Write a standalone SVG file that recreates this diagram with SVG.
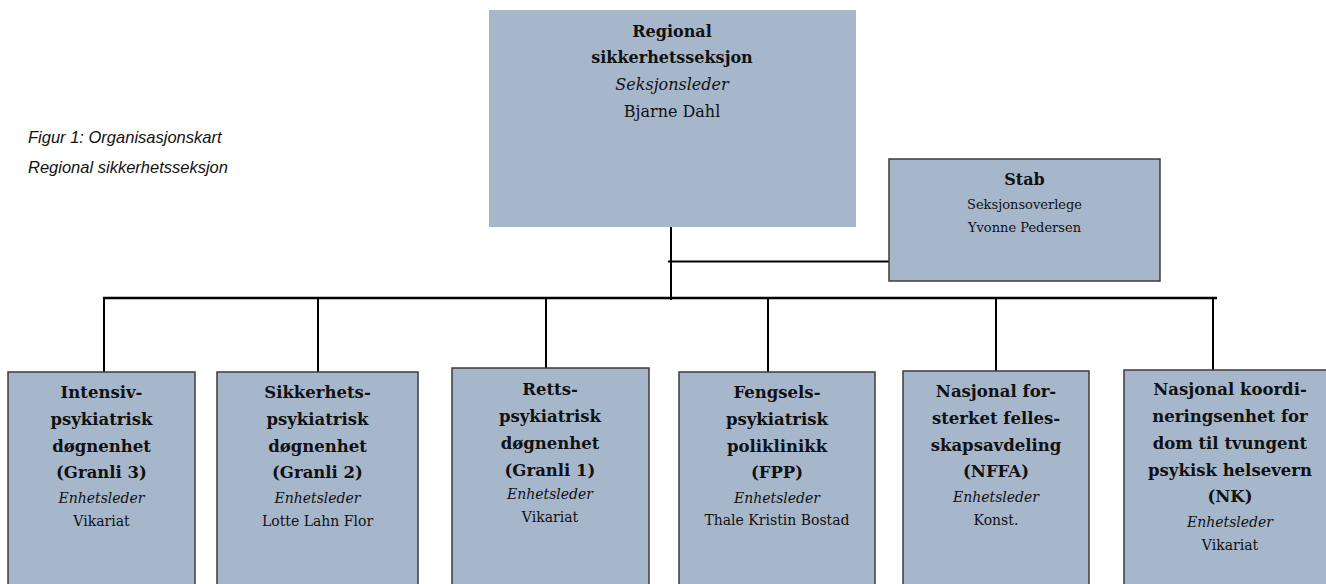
<svg xmlns="http://www.w3.org/2000/svg" width="1326" height="584" viewBox="0 0 1326 584">
<style>
.bg{fill:#ffffff}
.box{fill:#A6B6CB;stroke:#3c3c3c;stroke-width:1.5}
.top{fill:#A6B6CB;stroke:none}
.t{font-family:"DejaVu Serif","Liberation Serif",serif;fill:#111;text-anchor:middle}
.b{font-weight:bold;font-size:16.5px}
.tb{font-weight:bold;font-size:16px}
.i{font-style:italic;font-size:14px}
.r{font-size:14px}
.ti{font-style:italic;font-size:16px}
.tr{font-size:16px}
.sr{font-size:13px}
.cap{font-family:"Liberation Sans","DejaVu Sans",sans-serif;font-style:italic;font-size:16.5px;fill:#111}
.c{stroke:#000;fill:none}
</style>
<rect class="bg" x="0" y="0" width="1326" height="584"/>
<g id="caption">
<text class="cap" x="28" y="143">Figur 1: Organisasjonskart</text>
<text class="cap" x="28" y="173">Regional sikkerhetsseksjon</text>
</g>
<g id="connectors">
<line class="c" stroke-width="2" x1="671" y1="227" x2="671" y2="300"/>
<line class="c" stroke-width="1.8" x1="668" y1="261.5" x2="889" y2="261.5"/>
<line class="c" stroke-width="2.5" x1="103" y1="298" x2="1217" y2="298"/>
<line class="c" stroke-width="2" x1="104" y1="298" x2="104" y2="372"/>
<line class="c" stroke-width="2" x1="318" y1="298" x2="318" y2="372"/>
<line class="c" stroke-width="2" x1="546" y1="298" x2="546" y2="368"/>
<line class="c" stroke-width="2" x1="768" y1="298" x2="768" y2="372"/>
<line class="c" stroke-width="2" x1="996" y1="298" x2="996" y2="371"/>
<line class="c" stroke-width="2" x1="1213" y1="298" x2="1213" y2="370"/>
</g>
<g id="node-regional">
<rect class="top" x="489" y="10" width="367" height="217"/>
<text class="t tb" x="672" y="37">Regional</text>
<text class="t tb" x="672" y="63">sikkerhetsseksjon</text>
<text class="t ti" x="672" y="90">Seksjonsleder</text>
<text class="t tr" x="672" y="117">Bjarne Dahl</text>
</g>
<g id="node-stab">
<rect class="box" x="889" y="159" width="271" height="122"/>
<text class="t tb" x="1024.5" y="185">Stab</text>
<text class="t sr" x="1024.5" y="209">Seksjonsoverlege</text>
<text class="t sr" x="1024.5" y="232">Yvonne Pedersen</text>
</g>
<g id="node-granli3">
<rect class="box" x="8" y="372" width="187" height="220"/>
<text class="t b" x="101.5" y="398">Intensiv-</text>
<text class="t b" x="101.5" y="425">psykiatrisk</text>
<text class="t b" x="101.5" y="452">døgnenhet</text>
<text class="t b" x="101.5" y="478">(Granli 3)</text>
<text class="t i" x="101.5" y="503">Enhetsleder</text>
<text class="t r" x="101.5" y="526">Vikariat</text>
</g>
<g id="node-granli2">
<rect class="box" x="217" y="372" width="201" height="220"/>
<text class="t b" x="317.5" y="398">Sikkerhets-</text>
<text class="t b" x="317.5" y="425">psykiatrisk</text>
<text class="t b" x="317.5" y="452">døgnenhet</text>
<text class="t b" x="317.5" y="478">(Granli 2)</text>
<text class="t i" x="317.5" y="503">Enhetsleder</text>
<text class="t r" x="317.5" y="526">Lotte Lahn Flor</text>
</g>
<g id="node-granli1">
<rect class="box" x="452" y="368" width="197" height="224"/>
<text class="t b" x="550" y="395">Retts-</text>
<text class="t b" x="550" y="422">psykiatrisk</text>
<text class="t b" x="550" y="449">døgnenhet</text>
<text class="t b" x="550" y="476">(Granli 1)</text>
<text class="t i" x="550" y="499">Enhetsleder</text>
<text class="t r" x="550" y="522">Vikariat</text>
</g>
<g id="node-fpp">
<rect class="box" x="679" y="372" width="196" height="220"/>
<text class="t b" x="777" y="398">Fengsels-</text>
<text class="t b" x="777" y="425">psykiatrisk</text>
<text class="t b" x="777" y="452">poliklinikk</text>
<text class="t b" x="777" y="478">(FPP)</text>
<text class="t i" x="777" y="503">Enhetsleder</text>
<text class="t r" x="777" y="525">Thale Kristin Bostad</text>
</g>
<g id="node-nffa">
<rect class="box" x="903" y="371" width="186" height="221"/>
<text class="t b" x="996" y="397">Nasjonal for-</text>
<text class="t b" x="996" y="424">sterket felles-</text>
<text class="t b" x="996" y="451">skapsavdeling</text>
<text class="t b" x="996" y="477">(NFFA)</text>
<text class="t i" x="996" y="502">Enhetsleder</text>
<text class="t r" x="996" y="525">Konst.</text>
</g>
<g id="node-nk">
<rect class="box" x="1124" y="370" width="212" height="222"/>
<text class="t b" x="1230" y="395">Nasjonal koordi-</text>
<text class="t b" x="1230" y="422">neringsenhet for</text>
<text class="t b" x="1230" y="449">dom til tvungent</text>
<text class="t b" x="1230" y="476">psykisk helsevern</text>
<text class="t b" x="1230" y="502">(NK)</text>
<text class="t i" x="1230" y="527">Enhetsleder</text>
<text class="t r" x="1230" y="550">Vikariat</text>
</g>
</svg>
